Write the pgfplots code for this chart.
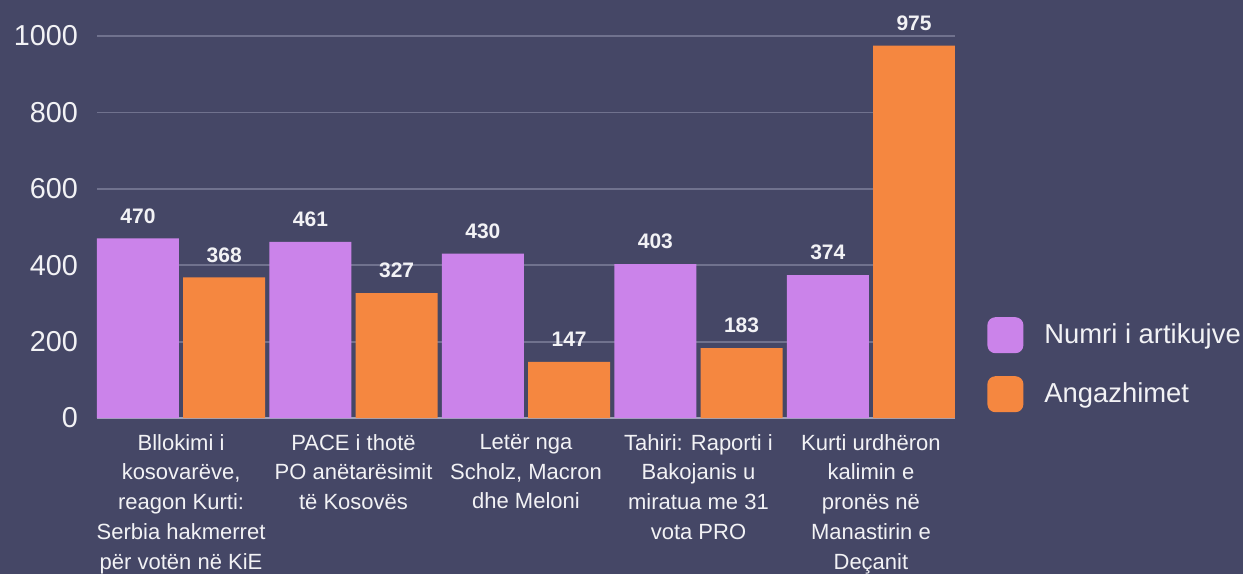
\documentclass[border=0pt]{standalone}
\usepackage{pgfplots}
\pgfplotsset{compat=1.18}
\usepackage{fontspec}
\setmainfont{Liberation Sans}
\definecolor{bg}{RGB}{69,71,102}
\definecolor{purp}{RGB}{203,131,234}
\definecolor{orng}{RGB}{245,135,64}
\definecolor{gridc}{RGB}{112,114,142}
\definecolor{basec}{RGB}{160,163,185}
\definecolor{txt}{RGB}{242,242,245}
\begin{document}
\begin{tikzpicture}
\fill[bg] (-48.5pt,-77.85pt) rectangle (573pt,209pt);
\path[use as bounding box] (-48.5pt,-77.85pt) rectangle (573pt,209pt);
\begin{axis}[
  at={(0pt,0pt)}, anchor=south west,
  scale only axis, width=429pt, height=191pt,
  xmin=-0.4875, xmax=4.4875, ymin=0, ymax=1000,
  ybar, bar width=0.475,
  axis line style={draw=none},
  ymajorgrids, grid style={gridc, line width=0.9pt},
  ytick={0,200,400,600,800,1000},
  extra y ticks={0}, extra y tick labels={},
  extra y tick style={grid style={basec, line width=0.9pt}},
  scaled y ticks=false,
  /pgf/number format/assume math mode=true,
  /pgf/number format/1000 sep={},
  tick style={draw=none}, major tick length=0pt,
  xtick={0,1,2,3,4},
  xticklabels={
    {Bllokimi i\\kosovarëve,\\reagon Kurti:\\Serbia hakmerret\\për votën në KiE},
    {PACE i thotë\\PO anëtarësimit\\të Kosovës},
    {Letër nga\\Scholz, Macron\\dhe Meloni},
    {Tahiri: Raporti i\\Bakojanis u\\miratua me 31\\vota PRO},
    {Kurti urdhëron\\kalimin e\\pronës në\\Manastirin e\\Deçanit}},
  xticklabel style={font=\fontsize{11pt}{14.9pt}\selectfont, align=center, text=txt, yshift=-4.5pt},
  yticklabel style={font=\fontsize{14.4pt}{17pt}\selectfont, text=txt, xshift=-6pt},
  nodes near coords,
  nodes near coords style={font=\bfseries\fontsize{10.5pt}{12pt}\selectfont, text=txt, yshift=4pt},
  clip=false,
  legend style={at={(1.0303,0.1395)}, anchor=west, draw=none, fill=none,
    text=txt, font=\fontsize{13.7pt}{16pt}\selectfont, row sep=11.5pt},
  legend cell align=left,
]
\addplot[fill=purp, draw=none, bar shift=-0.25,
  legend image code/.code={\fill[purp, rounded corners=4pt] (0pt,-9pt) rectangle (18pt,9pt);\path (26.5pt,0pt);}]
  coordinates {(0,470) (1,461) (2,430) (3,403) (4,374)};
\addplot[fill=orng, draw=none, bar shift=0.25,
  legend image code/.code={\fill[orng, rounded corners=4pt] (0pt,-9pt) rectangle (18pt,9pt);\path (26.5pt,0pt);}]
  coordinates {(0,368) (1,327) (2,147) (3,183) (4,975)};
\legend{Numri i artikujve, Angazhimet}
\end{axis}
\end{tikzpicture}
\end{document}
